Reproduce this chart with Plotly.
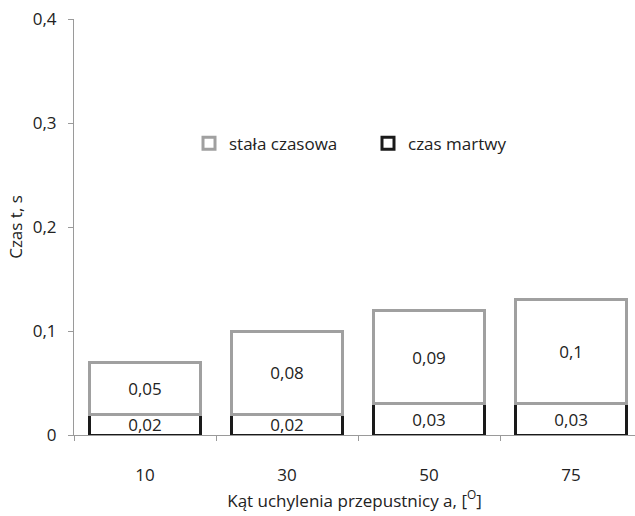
import plotly.graph_objects as go

# Kąt uchylenia przepustnicy (categories) and measured times [s]
angles = ["10", "30", "50", "75"]
czas_martwy = [0.02, 0.02, 0.03, 0.03]
stala_czasowa = [0.05, 0.08, 0.09, 0.1]

y_ticks = [0, 0.1, 0.2, 0.3, 0.4]


def pl_label(v):
    # Polish decimal comma, no trailing zeros
    return f"{v:g}".replace(".", ",")


FONT = "Open Sans"
FS = 17
TEXT_COLOR = "#222222"
AXIS_COLOR = "#9a9a9a"

fig = go.Figure()

fig.add_trace(go.Bar(
    x=angles,
    y=czas_martwy,
    name="czas martwy",
    text=[pl_label(v) for v in czas_martwy],
    textposition="inside",
    insidetextanchor="middle",
    textangle=0,
    constraintext="none",
    textfont=dict(family=FONT, size=FS, color=TEXT_COLOR),
    marker=dict(color="white", line=dict(color="#1a1a1a", width=3)),
))

fig.add_trace(go.Bar(
    x=angles,
    y=stala_czasowa,
    name="stała czasowa",
    text=[pl_label(v) for v in stala_czasowa],
    textposition="inside",
    insidetextanchor="middle",
    textangle=0,
    constraintext="none",
    textfont=dict(family=FONT, size=FS, color=TEXT_COLOR),
    marker=dict(color="white", line=dict(color="#a0a0a0", width=3)),
))

fig.update_layout(
    width=635,
    height=516,
    barmode="stack",
    bargap=0.22,
    separators=", ",
    paper_bgcolor="white",
    plot_bgcolor="white",
    margin=dict(l=74, r=0, t=19, b=81),
    font=dict(family=FONT, size=FS, color=TEXT_COLOR),
    showlegend=True,
    legend=dict(
        orientation="h",
        traceorder="reversed",
        x=0.205, y=0.70,
        xanchor="left", yanchor="middle",
        bgcolor="rgba(0,0,0,0)",
        font=dict(family=FONT, size=FS, color=TEXT_COLOR),
        entrywidth=134,
    ),
    xaxis=dict(
        type="category",
        range=[-0.5, 3.45],
        tickson="boundaries",
        ticks="outside",
        ticklen=5,
        tickcolor=AXIS_COLOR,
        showline=True,
        linecolor=AXIS_COLOR,
        linewidth=1,
        showgrid=False,
        ticklabelstandoff=25,
        title=dict(text="Kąt uchylenia przepustnicy a, [<sup>O</sup>]",
                   standoff=8, font=dict(size=FS)),
    ),
    yaxis=dict(
        range=[0, 0.4],
        tickvals=y_ticks,
        ticks="outside",
        ticklen=5,
        tickcolor=AXIS_COLOR,
        showline=True,
        linecolor=AXIS_COLOR,
        linewidth=1,
        showgrid=False,
        zeroline=False,
        ticklabelstandoff=8,
        title=dict(text="Czas t, s", standoff=5, font=dict(size=FS)),
    ),
)

fig.write_html("out.html")
